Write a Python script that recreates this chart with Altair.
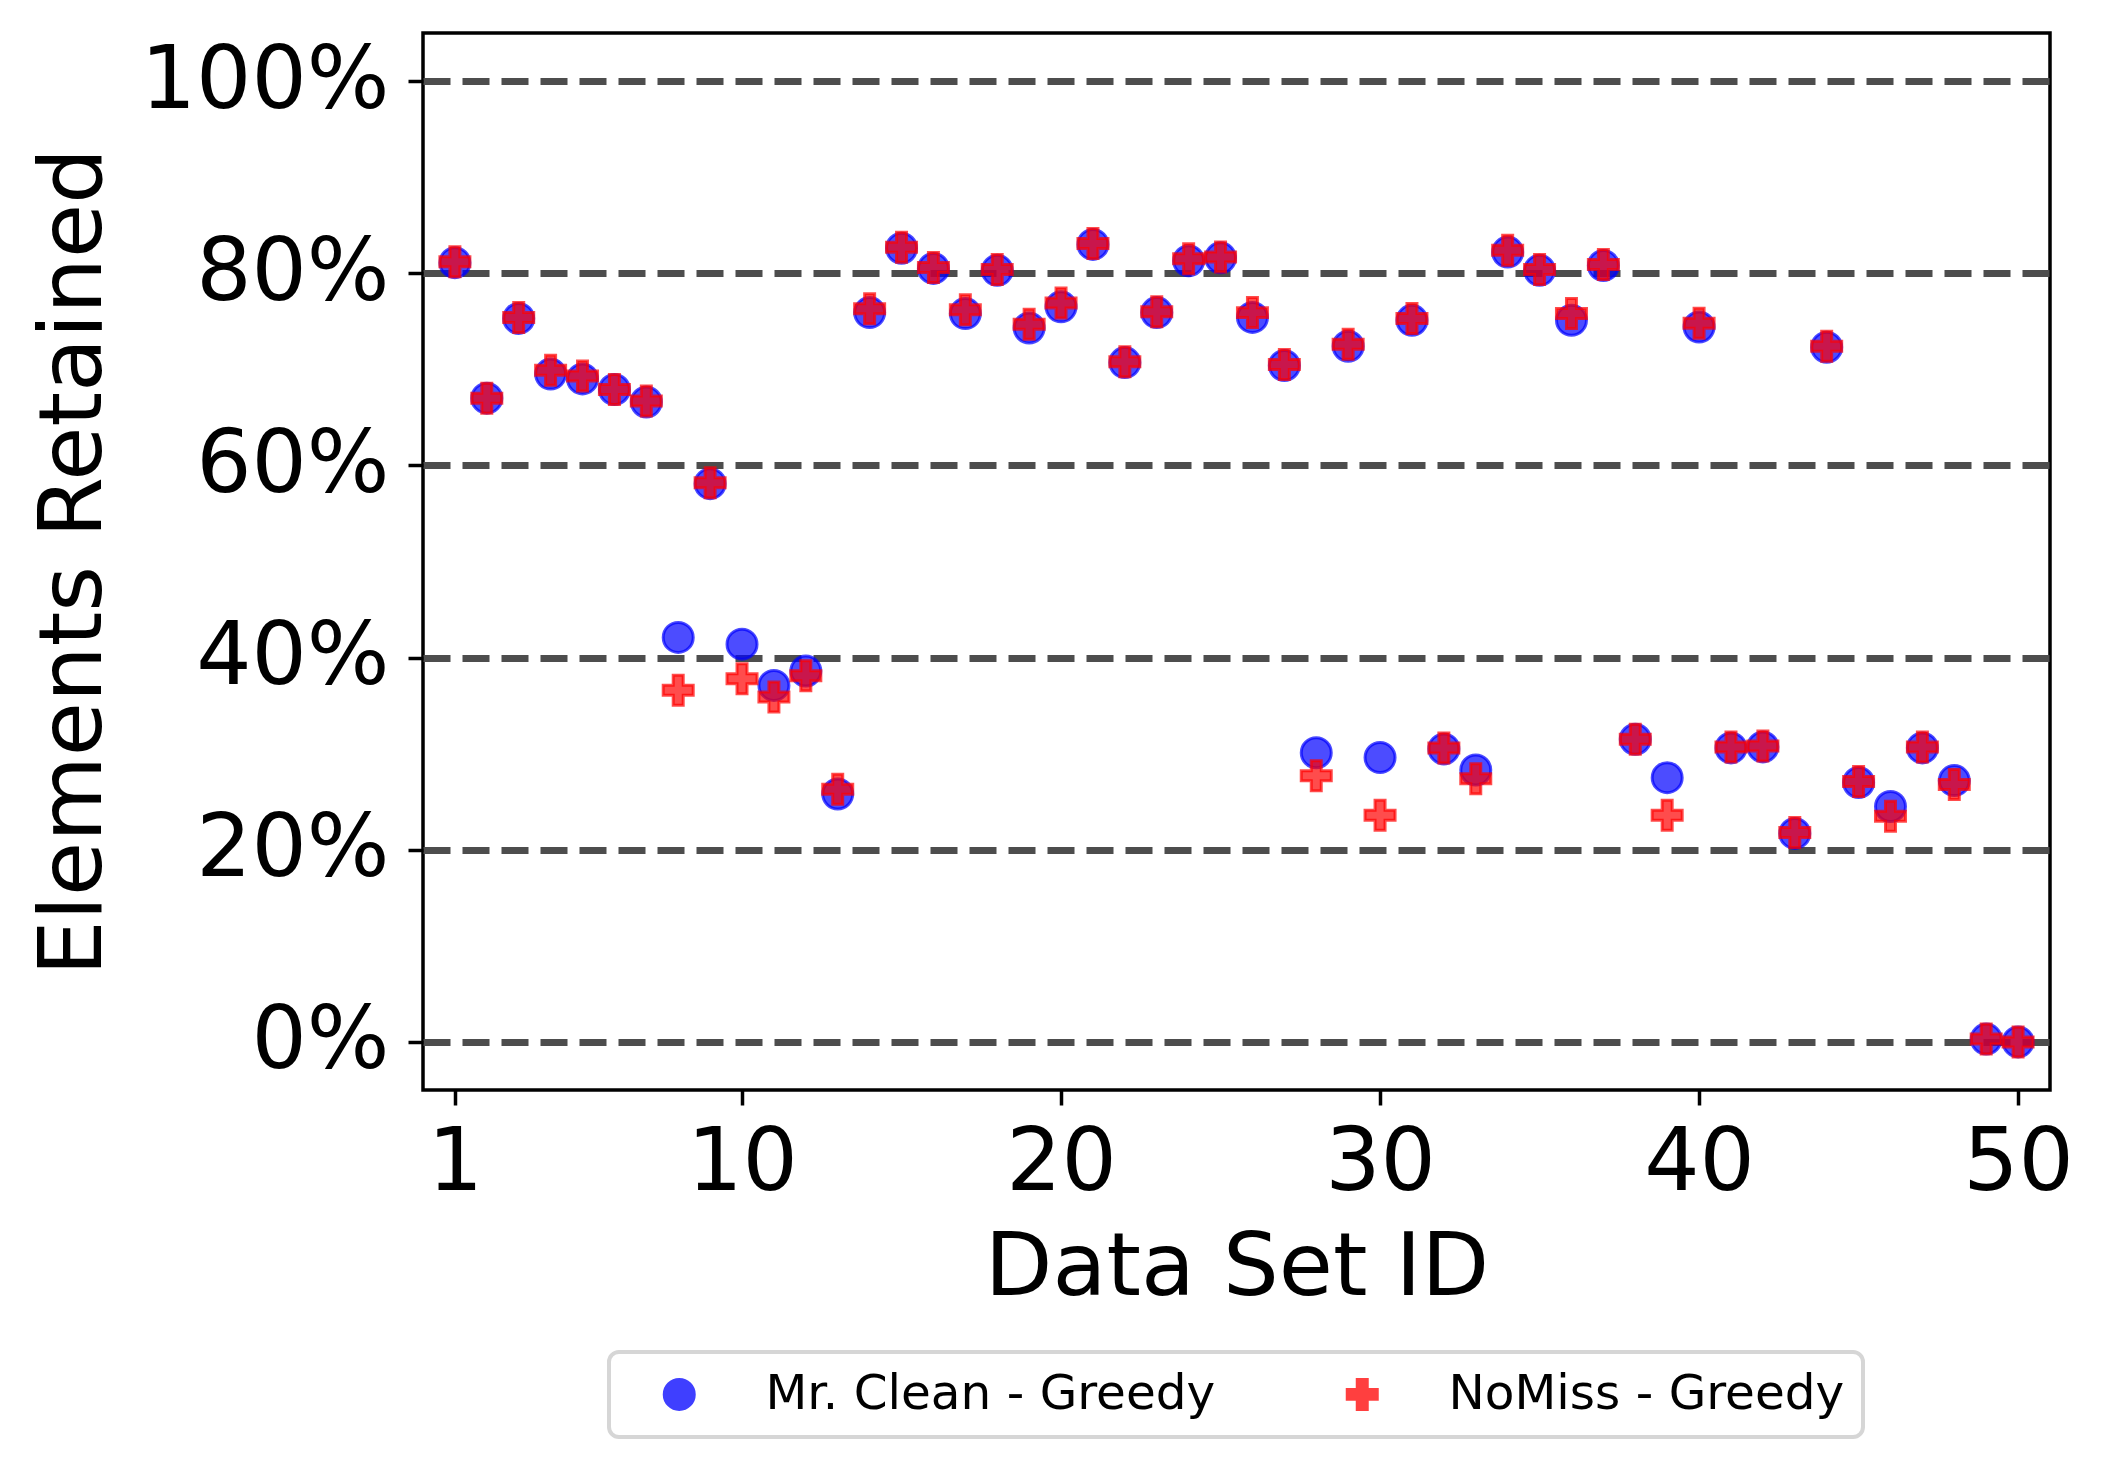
import altair as alt
import pandas as pd

# ---- data ----
dataset_ids = list(range(1, 51))

mr_clean_greedy = [
    81.1, 67.0, 75.3, 69.5, 69.0, 67.9, 66.6, 42.1, 58.1, 41.4,
    37.1, 38.6, 25.8, 75.9, 82.6, 80.5, 75.8, 80.3, 74.3, 76.5,
    83.0, 70.7, 75.9, 81.3, 81.6, 75.4, 70.4, 30.1, 72.4, 29.6,
    75.1, 30.5, 28.3, 82.2, 80.3, 75.1, 80.8, 31.5, 27.5, 74.4,
    30.6, 30.7, 21.7, 72.3, 27.0, 24.5, 30.6, 27.2, 0.3, 0.0,
]

nomiss_greedy = [
    81.2, 67.0, 75.4, 69.9, 69.3, 67.9, 66.7, 36.6, 58.2, 37.8,
    35.9, 38.1, 26.3, 76.3, 82.7, 80.6, 76.2, 80.4, 74.7, 76.9,
    83.1, 70.8, 76.0, 81.5, 81.7, 75.9, 70.5, 27.7, 72.6, 23.6,
    75.3, 30.6, 27.4, 82.4, 80.4, 75.8, 80.9, 31.5, 23.6, 74.8,
    30.7, 30.8, 21.8, 72.4, 27.1, 23.5, 30.7, 26.8, 0.3, 0.0,
]

series_names = ["Mr. Clean - Greedy", "NoMiss - Greedy"]
series_colors = ["#0000ff", "#ff0000"]
x_ticks = [1, 10, 20, 30, 40, 50]
y_ticks = [0, 20, 40, 60, 80, 100]

plus_path = "M-1,-0.333H-0.333V-1H0.333V-0.333H1V0.333H0.333V1H-0.333V0.333H-1Z"

rows = []
for name, vals in zip(series_names, [mr_clean_greedy, nomiss_greedy]):
    for i, v in zip(dataset_ids, vals):
        rows.append({"id": i, "value": v, "series": name, "order": series_names.index(name)})
df = pd.DataFrame(rows)

color_scale = alt.Scale(domain=series_names, range=series_colors)
shape_scale = alt.Scale(domain=series_names, range=["circle", plus_path])

legend_kw = dict(
    title=None,
    orient="none",
    legendX=186,
    legendY=1319,
    direction="horizontal",
    columns=2,
    padding=18,
    symbolOffset=28,
    labelOffset=62,
    columnPadding=94,
    labelFontSize=48.5,
    labelFont="DejaVu Sans",
    labelColor="black",
    labelLimit=2000,
    symbolSize=900,
    symbolStrokeWidth=3,
    symbolOpacity=0.75,
    strokeColor="#d6d6d6",
    fillColor="white",
    cornerRadius=10,
)

chart = (
    alt.Chart(df)
    .mark_point(filled=True, size=900, fillOpacity=0.7, strokeOpacity=0.7, strokeWidth=3)
    .encode(
        x=alt.X(
            "id:Q",
            scale=alt.Scale(domain=[0, 51], nice=False, zero=False),
            axis=alt.Axis(
                values=x_ticks,
                title="Data Set ID",
                grid=False,
                domain=False,
                labelFontSize=87,
                labelPadding=15,
                labelFlush=False,
                labelOverlap=False,
                labelLimit=400,
                tickSize=15,
                tickWidth=3.5,
                tickColor="black",
                labelColor="black",
                titleFontSize=88,
                titleFontWeight="normal",
                titleColor="black",
                titlePadding=18,
            ),
        ),
        y=alt.Y(
            "value:Q",
            scale=alt.Scale(domain=[-5, 105], nice=False, zero=False),
            axis=alt.Axis(
                values=y_ticks,
                labelExpr="datum.value + '%'",
                title="Elements Retained",
                grid=True,
                gridDash=[27, 12],
                gridWidth=7,
                gridColor="#4d4d4d",
                domain=False,
                labelFontSize=87,
                labelPadding=19,
                labelOverlap=False,
                labelLimit=400,
                tickSize=15,
                tickWidth=3.5,
                tickColor="black",
                labelColor="black",
                titleFontSize=88,
                titleFontWeight="normal",
                titleColor="black",
                titleX=-305,
            ),
        ),
        color=alt.Color("series:N", scale=color_scale, legend=alt.Legend(**legend_kw)),
        stroke=alt.Stroke("series:N", scale=color_scale, legend=alt.Legend(**legend_kw)),
        shape=alt.Shape("series:N", scale=shape_scale, legend=alt.Legend(**legend_kw)),
        order=alt.Order("order:Q"),
    )
    .properties(
        width=1627,
        height=1057,
        autosize=alt.AutoSizeParams(type="none"),
        padding={"left": 415, "top": 25, "right": 50, "bottom": 370},
    )
    .configure(font="DejaVu Sans")
    .configure_view(stroke="black", strokeWidth=3.5)
    .configure_legend(strokeWidth=4)
)

chart.save("out.html", embed_options={"renderer": "svg", "actions": False})
